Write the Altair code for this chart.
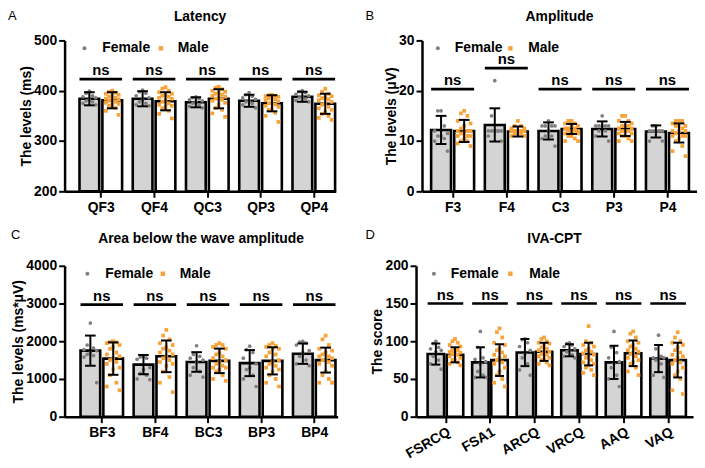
import altair as alt
import pandas as pd

FONT = "Liberation Sans"
GRAY_PT = "#7f7f7f"
ORANGE = "#f8a33a"
BAR_F = "#d4d4d4"

# ---------------- Panel A : Latency ----------------
a_cats = ["QF3", "QF4", "QC3", "QP3", "QP4"]
a_f_mean = [384, 384, 377, 380, 388]
a_f_sd = [13, 15, 10, 12, 10]
a_m_mean = [381, 379, 384, 375, 374]
a_m_sd = [16, 18, 19, 16, 20]
a_f_pts = [
    [399, 395, 390, 388, 386, 383, 380, 378, 375, 372],
    [401, 398, 395, 390, 386, 382, 378, 375, 372, 370],
    [388, 386, 384, 382, 380, 378, 375, 372, 369, 366],
    [396, 392, 389, 386, 383, 380, 378, 375, 372, 366],
    [400, 398, 396, 393, 390, 388, 386, 384, 381, 378],
]
a_m_pts = [
    [400, 398, 396, 394, 392, 390, 388, 386, 384, 383, 382, 380, 378, 376, 374, 372, 370, 366, 360, 352],
    [407, 404, 400, 397, 394, 392, 390, 388, 386, 384, 381, 378, 375, 372, 370, 368, 365, 360, 354, 345],
    [408, 406, 403, 400, 398, 396, 394, 392, 390, 388, 386, 384, 382, 380, 376, 372, 366, 362, 355, 348],
    [392, 391, 390, 389, 388, 387, 385, 383, 381, 379, 377, 375, 373, 370, 368, 365, 362, 356, 350, 338],
    [404, 398, 394, 391, 389, 387, 385, 383, 381, 378, 375, 372, 368, 365, 362, 358, 354, 350, 346, 342],
]
a_ns = [423, 423, 423, 423, 423]

# ---------------- Panel B : Amplitude ----------------
b_cats = ["F3", "F4", "C3", "P3", "P4"]
b_f_mean = [12.2, 13.2, 12.0, 12.4, 11.9]
b_f_sd = [2.8, 3.3, 1.7, 1.5, 1.2]
b_m_mean = [12.0, 11.9, 12.4, 12.4, 11.6]
b_m_sd = [2.2, 1.0, 1.0, 1.4, 1.9]
b_f_pts = [
    [16, 16, 13, 12, 11.5, 11, 11, 10.5, 10, 8],
    [22, 15, 12, 12, 12, 12, 12, 12, 11, 10],
    [14, 13, 13, 13, 13, 12, 11, 11, 10.5, 9],
    [15, 13, 13, 13, 13, 13, 12, 12, 11, 10],
    [13, 13, 12, 12, 12, 12, 12, 12, 10, 10],
]
b_m_pts = [
    [16, 15.5, 15, 14, 13.5, 13, 12.5, 12, 12, 12, 11.5, 11.5, 11, 11, 11, 10.5, 10, 10, 9.5, 9],
    [14, 13, 13, 12.5, 12.5, 12, 12, 12, 12, 12, 12, 12, 12, 11.5, 11.5, 11.5, 11, 11, 12, 12],
    [14, 14, 13.5, 13.5, 13, 13, 12.5, 12.5, 12.5, 12, 12, 12, 12, 11.5, 11.5, 11, 11, 10.5, 10, 10],
    [15, 15, 14, 14, 13.5, 13, 13, 13, 12.5, 12.5, 12, 12, 12, 11.5, 11.5, 11, 11, 10.5, 10, 10],
    [14, 14, 14, 13.5, 13, 13, 13, 12.5, 12, 12, 12, 11.5, 11, 11, 11, 10.5, 10, 9, 8, 7],
]
b_ns = [20.3, 24.5, 20.3, 20.3, 20.3]

# ---------------- Panel C : Area below the wave amplitude ----------------
c_cats = ["BF3", "BF4", "BC3", "BP3", "BP4"]
c_f_mean = [1750, 1380, 1450, 1420, 1670]
c_f_sd = [400, 255, 260, 345, 270]
c_m_mean = [1540, 1600, 1480, 1480, 1500]
c_m_sd = [430, 420, 325, 360, 330]
c_f_pts = [
    [2480, 1900, 1820, 1780, 1750, 1700, 1650, 1620, 1580, 900],
    [1600, 1580, 1550, 1520, 1300, 1250, 1150, 1100, 1000, 980],
    [1880, 1650, 1600, 1550, 1500, 1450, 1300, 1200, 1100, 1050],
    [1870, 1780, 1700, 1550, 1400, 1300, 1250, 1100, 1000, 800],
    [2000, 1980, 1950, 1900, 1750, 1700, 1600, 1500, 1400, 1350],
]
c_m_pts = [
    [2000, 1980, 1970, 1950, 1900, 1850, 1800, 1700, 1650, 1600, 1550, 1500, 1450, 1400, 1300, 1250, 1100, 900, 800, 700],
    [2300, 2150, 2050, 1950, 1900, 1850, 1800, 1750, 1700, 1650, 1600, 1550, 1450, 1400, 1350, 1200, 1050, 900, 650, 1500],
    [1950, 1900, 1850, 1800, 1700, 1650, 1600, 1550, 1500, 1450, 1400, 1350, 1300, 1300, 1250, 1200, 1100, 1000, 950, 1900],
    [1950, 1900, 1850, 1800, 1800, 1700, 1650, 1600, 1500, 1450, 1400, 1350, 1300, 1250, 1200, 1100, 1000, 900, 800, 1880],
    [2150, 2050, 1900, 1800, 1750, 1700, 1650, 1600, 1550, 1500, 1500, 1450, 1400, 1350, 1200, 1100, 1000, 900, 900, 1600],
]
c_ns = [2970, 2970, 2970, 2970, 2970]

# ---------------- Panel D : IVA-CPT ----------------
d_cats = ["FSRCQ", "FSA1", "ARCQ", "VRCQ", "AAQ", "VAQ"]
d_f_mean = [83, 72, 85, 88, 72, 77]
d_f_sd = [14, 20, 18, 8, 22, 18]
d_m_mean = [82, 75, 86, 83, 84, 75]
d_m_sd = [10, 21, 12, 15, 17, 23]
d_f_pts = [
    [100, 97, 92, 90, 88, 86, 80, 75, 70, 63],
    [113, 92, 78, 76, 73, 70, 60, 55, 52, 52],
    [103, 102, 98, 93, 88, 83, 78, 70, 62, 55],
    [98, 97, 95, 93, 90, 88, 86, 82, 80, 78],
    [113, 92, 85, 78, 73, 70, 65, 55, 50, 40],
    [108, 90, 80, 78, 78, 77, 75, 70, 55, 52],
]
d_m_pts = [
    [103, 100, 98, 95, 93, 90, 88, 86, 85, 83, 82, 80, 78, 76, 75, 72, 70, 68, 88, 84],
    [117, 112, 105, 98, 95, 90, 88, 85, 82, 80, 78, 75, 72, 70, 65, 60, 55, 50, 45, 40],
    [105, 103, 100, 98, 97, 95, 92, 90, 88, 86, 85, 83, 82, 80, 78, 76, 75, 72, 70, 68],
    [120, 100, 98, 95, 93, 90, 88, 86, 84, 82, 80, 78, 75, 72, 70, 68, 65, 62, 58, 55],
    [113, 110, 105, 100, 98, 95, 93, 90, 88, 86, 85, 83, 80, 78, 75, 72, 70, 65, 60, 55],
    [112, 105, 100, 98, 95, 92, 88, 85, 82, 80, 78, 75, 72, 70, 65, 60, 55, 50, 35, 30],
]
d_ns = [150, 150, 150, 150, 150, 150]

SEXES = ["Female", "Male"]
OFFS = {"Female": -0.215, "Male": 0.215}


def spread_offsets(vals, step):
    order = sorted(range(len(vals)), key=lambda k: -vals[k])
    pattern = [0, -1, 1, -2, 2]
    offs = [0.0] * len(vals)
    for r, k in enumerate(order):
        offs[k] = pattern[r % 5] * step
    return offs


def panel(letter, title, cats, fm, fs, mm, ms, fp, mp, ns, ydom, yvals, ytitle,
          xdom, w, h, angle, letter_dx, leg, letter_dy, title_dy):
    n = len(cats)
    label_expr = "[" + ",".join("'%s'" % c for c in cats) + "][datum.value]"
    xs = alt.Scale(domain=xdom, nice=False, zero=False)
    xa = alt.Axis(values=list(range(n)), labelExpr=label_expr, title=None, grid=False,
                  labelAngle=angle, labelAlign="right" if angle else "center",
                  labelBaseline="top", labelPadding=3 if angle == 0 else 2)
    ys = alt.Scale(domain=ydom, nice=False, zero=False)
    ya = alt.Axis(values=yvals, title=ytitle, grid=False, titlePadding=0, labelPadding=2, format="d")

    def X(f):
        return alt.X(f, type="quantitative", scale=xs, axis=xa)

    def Y(f):
        return alt.Y(f, type="quantitative", scale=ys, axis=ya)

    bar_rows, pt_rows, cap_rows, ns_rows = [], [], [], []
    for i in range(n):
        for sex, mean, sd, pts in (("Female", fm[i], fs[i], fp[i]), ("Male", mm[i], ms[i], mp[i])):
            xc = i + OFFS[sex]
            bar_rows.append(dict(sex=sex, x=xc, x1=xc - 0.185, x2=xc + 0.185, y=mean,
                                 lo=mean - sd, hi=mean + sd, base=ydom[0]))
            for yv in (mean - sd, mean + sd):
                cap_rows.append(dict(c1=xc - 0.1, c2=xc + 0.1, y=yv))
            offs = spread_offsets(pts, 0.06)
            for v, o in zip(pts, offs):
                pt_rows.append(dict(sex=sex, x=xc + o, y=v))
        ns_rows.append(dict(x1=i - 0.4, x2=i + 0.4, xm=i, y=ns[i], t="ns"))
    bars = pd.DataFrame(bar_rows)
    pts_df = pd.DataFrame(pt_rows)
    caps = pd.DataFrame(cap_rows)
    nsdf = pd.DataFrame(ns_rows)

    bar_layer = alt.Chart(bars).mark_bar(stroke="black", strokeWidth=2.6).encode(
        x=X("x1"), x2="x2", y=Y("y"), y2="base",
        fill=alt.Fill("sex:N", scale=alt.Scale(domain=SEXES, range=[BAR_F, "white"]), legend=None),
    )
    pt_layer = alt.Chart(pts_df).mark_point(filled=True, opacity=1, size=14).encode(
        x=X("x"), y=Y("y"),
        color=alt.Color("sex:N", scale=alt.Scale(domain=SEXES, range=[GRAY_PT, ORANGE]), legend=None),
        shape=alt.Shape("sex:N", scale=alt.Scale(domain=SEXES, range=["circle", "square"]), legend=None),
    )
    err_layer = alt.Chart(bars).mark_rule(color="black", strokeWidth=2).encode(
        x=X("x"), y=Y("lo"), y2="hi")
    cap_layer = alt.Chart(caps).mark_rule(color="black", strokeWidth=2).encode(
        x=X("c1"), x2="c2", y=Y("y"))
    ns_line = alt.Chart(nsdf).mark_rule(color="black", strokeWidth=2.7).encode(
        x=X("x1"), x2="x2", y=Y("y"))
    ns_text = alt.Chart(nsdf).mark_text(font=FONT, fontSize=15, fontWeight="bold", color="black",
                                        baseline="alphabetic", dy=-4).encode(
        x=X("xm"), y=Y("y"), text="t:N")
    lab = pd.DataFrame({"t": [letter], "title": [title]})
    letter_layer = alt.Chart(lab).mark_text(font=FONT, fontSize=13, align="left", baseline="middle",
                                            color="black").encode(
        x=alt.value(letter_dx), y=alt.value(letter_dy), text="t:N")
    title_layer = alt.Chart(lab).mark_text(font=FONT, fontSize=14, fontWeight="bold", align="center",
                                           baseline="middle", color="black").encode(
        x=alt.value(w / 2), y=alt.value(title_dy), text="title:N")

    # legend (drawn as marks inside the plot, like the original)
    leg_layers = []
    ldf = pd.DataFrame({"sex": SEXES})
    specs = [("Female", GRAY_PT, "circle", 16, leg[0], leg[1]),
             ("Male", ORANGE, "square", 20, leg[2], leg[3])]
    for sx, col, shp, sz, px, tx in specs:
        sub = ldf[ldf["sex"] == sx]
        leg_layers.append(alt.Chart(sub).mark_point(filled=True, opacity=1, size=sz, shape=shp,
                                                     color=col).encode(
            x=alt.value(px), y=alt.value(8)))
        leg_layers.append(alt.Chart(sub).mark_text(font=FONT, fontSize=14, fontWeight="bold",
                                                   align="left", baseline="middle", color="black").encode(
            x=alt.value(tx), y=alt.value(8), text="sex:N"))

    return alt.layer(bar_layer, pt_layer, err_layer, cap_layer, ns_line, ns_text,
                     letter_layer, title_layer, *leg_layers).properties(width=w, height=h)


pA = panel("A", "Latency", a_cats, a_f_mean, a_f_sd, a_m_mean, a_m_sd, a_f_pts, a_m_pts, a_ns,
           [200, 500], [200, 300, 400, 500], "The levels (ms)", [-0.68, 4.41], 273, 152, 0, -57,
           (20, 38, 97, 114), -25, -24)
pB = panel("B", "Amplitude", b_cats, b_f_mean, b_f_sd, b_m_mean, b_m_sd, b_f_pts, b_m_pts, b_ns,
           [0, 30], [0, 10, 20, 30], "The levels (μV)", [-0.57, 4.55], 277, 152, 0, -57,
           (16, 33, 89, 107), -25, -24)
pC = panel("C", "Area below the wave amplitude", c_cats, c_f_mean, c_f_sd, c_m_mean, c_m_sd,
           c_f_pts, c_m_pts, c_ns, [0, 4000], [0, 1000, 2000, 3000, 4000], "The levels (ms*μV)",
           [-0.7, 4.44], 275, 152, 0, -54, (23, 41, 99, 116), -31, -27)
pD = panel("D", "IVA-CPT", d_cats, d_f_mean, d_f_sd, d_m_mean, d_m_sd, d_f_pts, d_m_pts, d_ns,
           [0, 200], [0, 50, 100, 150, 200], "The score", [-0.66, 5.56], 279, 152, -30, -51,
           (18, 35, 95, 114), -31, -27)

row1 = alt.hconcat(pA, pB, spacing=29)
row2 = alt.hconcat(pC, pD, spacing=28)

chart = alt.vconcat(row1, row2, spacing=15).properties(padding=0).configure_view(
    stroke=None
).configure_axis(
    domainColor="black", domainWidth=2.5, tickColor="black", tickWidth=2, tickSize=6,
    labelFont=FONT, labelFontSize=14, labelFontWeight="bold", labelColor="black",
    titleFont=FONT, titleFontSize=14, titleFontWeight="bold", titleColor="black", grid=False,
)

chart.save("out.html", embed_options={"renderer": "svg", "actions": False})
